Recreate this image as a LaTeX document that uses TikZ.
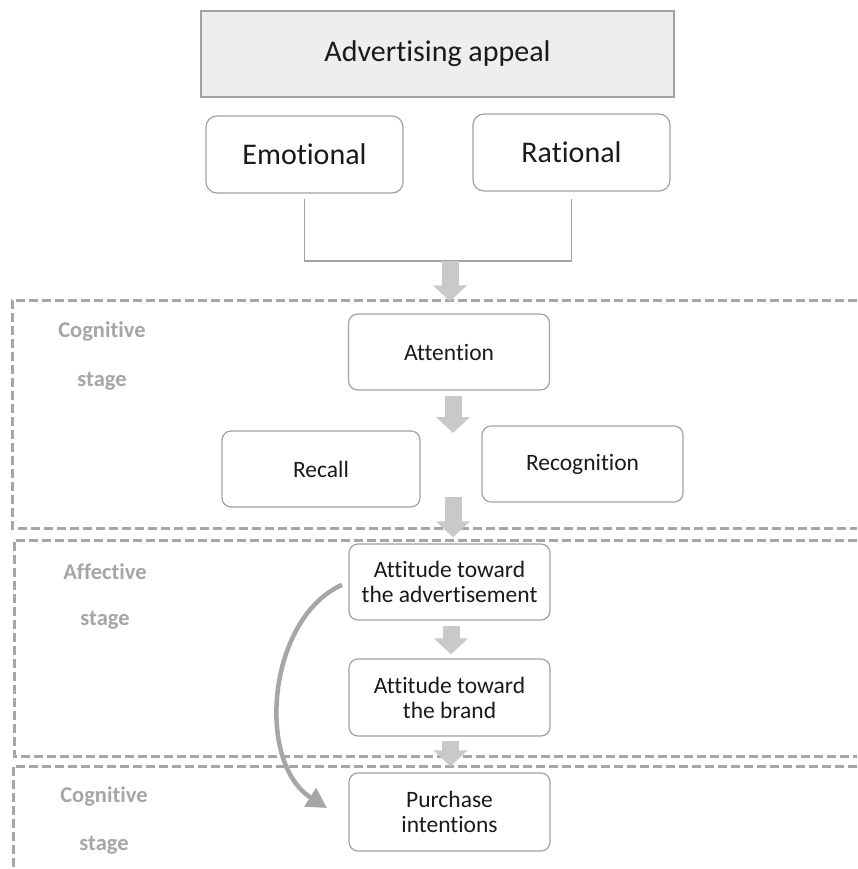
\documentclass[tikz,border=0pt]{standalone}
\usepackage{fontspec}
\setmainfont{Carlito}[Ligatures=NoCommon]
\usetikzlibrary{arrows.meta}
\definecolor{boxline}{HTML}{A2A2A2}
\definecolor{titlefill}{HTML}{EEEEEE}
\definecolor{textdark}{HTML}{1A1A1A}
\definecolor{stagegray}{HTML}{A6A6A6}
\definecolor{arrowgray}{HTML}{C9C9C9}
\begin{document}
\begin{tikzpicture}[x=1pt,y=-1pt,
  box/.style={draw=boxline, line width=1.2pt, rounded corners=9pt, fill=white,
    text=textdark, align=center, inner sep=0pt,
    font=\fontsize{23.5}{25}\selectfont},
  smallbox/.style={box, minimum width=201pt, minimum height=76pt},
  appealbox/.style={box, minimum width=197pt, minimum height=77pt,
    rounded corners=11pt, font=\fontsize{30}{34}\selectfont},
  titlebox/.style={draw=boxline, line width=1.2pt, fill=titlefill, text=textdark,
    inner sep=0pt, minimum width=473pt, minimum height=86pt,
    font=\fontsize{30}{34}\selectfont},
  stagelabel/.style={text=stagegray, anchor=base, inner sep=0pt,
    font=\fontsize{22.5}{26}\selectfont\bfseries},
  stageframe/.style={draw=stagegray, line width=3pt, dash pattern=on 9pt off 4pt},
  joinline/.style={draw=boxline, line width=1.2pt},
  blockarrow/.style={draw=arrowgray, line width=17pt,
    -{Triangle[width=33pt,length=16pt]}},
  curvearrow/.style={draw=stagegray, line width=4.5pt,
    -{Triangle[width=21pt,length=20pt]}}]
\useasboundingbox (0,0) rectangle (857,869);

% stage frames (open on the right)
\draw[stageframe] (857,300) -| (12,528) -- (857,528);
\draw[stageframe] (857,540) -| (14,756) -- (857,756);
\draw[stageframe] (857,766) -| (13,869);

% stage labels
\node[stagelabel] (cogA) at (102,337) {Cognitive};
\node[stagelabel] (cogAs) at (102,386) {stage};
\node[stagelabel] (aff) at (105,579) {Affective};
\node[stagelabel] (affs) at (105,625) {stage};
\node[stagelabel] (cogB) at (104,802) {Cognitive};
\node[stagelabel] (cogBs) at (104,850) {stage};

% appeal boxes
\node[titlebox] (appeal) at (437.5,54) {Advertising appeal};
\node[appealbox] (emo) at (304.5,154.5) {Emotional};
\node[appealbox] (rat) at (571.5,152.5) {Rational};

% hierarchy of effects
\node[smallbox] (att) at (449,352) {Attention};
\node[smallbox, minimum width=198pt] (recall) at (321,469) {Recall};
\node[smallbox] (recog) at (582.5,464) {Recognition};
\node[smallbox] (attad) at (449.5,582) {Attitude toward\\the advertisement};
\node[smallbox, minimum height=77pt] (brand) at (449.5,697.5) {Attitude toward\\the brand};
\node[smallbox, minimum height=78pt] (purch) at (449.5,812) {Purchase\\intentions};

% helper coordinates
\coordinate (merge) at (437,261);
\coordinate (flowA) at (450,261);
\coordinate (gapTop) at (453,433);
\coordinate (gapBot) at (453,497);
\coordinate (curvetip) at (327,808);

% join of the two appeals
\draw[joinline] ([yshift=-5pt]emo.south) |- (merge) -| ([yshift=-7pt]rat.south);

% block arrows
\draw[blockarrow] (flowA) -- (flowA |- att.north) [shorten >=12pt];
\draw[blockarrow, shorten <=5pt] (att.south -| gapTop) -- (gapTop);
\draw[blockarrow, shorten >=6pt] (gapBot) -- (gapBot |- attad.north);
\draw[blockarrow, shorten <=5pt, shorten >=4pt] ([xshift=1.5pt]attad.south) -- ([xshift=1.5pt]brand.north);
\draw[blockarrow, shorten <=4pt, shorten >=6pt] ([xshift=1pt]brand.south) -- ([xshift=1pt]purch.north);

% direct path from ad attitude to purchase intentions
\draw[curvearrow, shorten <=7pt] (attad.west) .. controls (268,618) and (255,762) .. (curvetip);
\end{tikzpicture}
\end{document}
